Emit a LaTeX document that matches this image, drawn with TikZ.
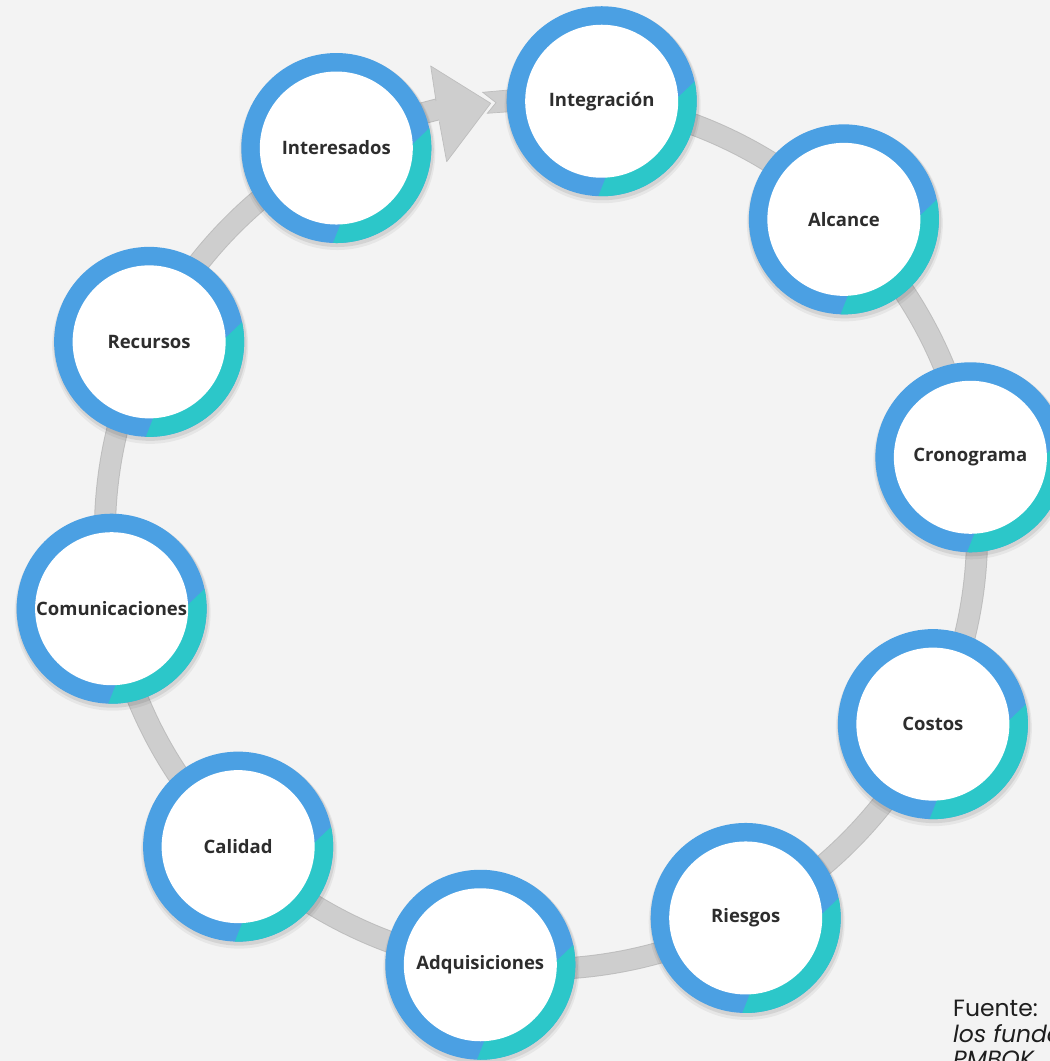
\documentclass[tikz,border=0pt]{standalone}
\usepackage{fontspec}
\setmainfont{Open Sans}
\newfontfamily\srcfont{Poppins}
\usetikzlibrary{calc}
\definecolor{bg}{RGB}{243,243,243}
\definecolor{ringblue}{RGB}{75,160,227}
\definecolor{ringteal}{RGB}{44,199,201}
\definecolor{bandgray}{RGB}{206,206,206}
\definecolor{bandedge}{RGB}{190,190,190}
\definecolor{labeltext}{RGB}{45,45,45}
\definecolor{srctext}{RGB}{30,30,30}
\begin{document}
\begin{tikzpicture}[x=1pt,y=1pt,
  bandouter/.style={draw=bandedge, line width=22pt},
  bandinner/.style={draw=bandgray, line width=20pt},
  topic/.style={circle, fill=white, minimum size=153pt, inner sep=0pt,
    font=\fontsize{18.5}{21}\selectfont\bfseries, text=labeltext},
  srcline/.style={anchor=base west, text=srctext, inner sep=0pt}]
\useasboundingbox (0,0) rectangle (1050,1061);
\fill[bg] (0,0) rectangle (1050,1061);
\clip (0,0) rectangle (1050,1061);
\coordinate (C) at (541,528);
% gray cycle band
\draw[bandouter] ($(C)+(103:436)$) arc[start angle=103, end angle=442, radius=436pt];
\draw[bandinner] ($(C)+(103:436)$) arc[start angle=103, end angle=442, radius=436pt];
% arrow head
\fill[bandgray] (436,960) -- (430.7,995) -- (490.7,957.7) -- (446.7,899.3) -- (439.3,939.3) -- cycle;
\draw[bandedge, line width=0.7pt, line join=round] (436,960) -- (430.7,995) -- (490.7,957.7) -- (446.7,899.3) -- (439.3,939.3);
\fill[bandgray] (482.7,968.7) -- (520,972) -- (520,950) -- (487.3,947.7) -- (496,958.3) -- cycle;
\draw[bandedge, line width=0.7pt] (520,972) -- (482.7,968.7) -- (496,958.3) -- (487.3,947.7) -- (520,950);
% topic circles
\foreach \a/\nm/\lbl in {82/integ/Integración, 46/alc/Alcance, 10/crono/Cronograma,
    -26/cost/Costos, -62/ries/Riesgos, -98/adq/Adquisiciones, -134/cal/Calidad,
    -170/com/Comunicaciones, 154/rec/Recursos, 118/inter/Interesados}{
  \coordinate (P) at ($(C)+(\a:436)$);
  \fill[black, opacity=0.05] ($(P)+(1,-4)$) circle[radius=98pt];
  \fill[black, opacity=0.08] ($(P)+(1,-2.5)$) circle[radius=96.5pt];
  \fill[ringblue] (P) circle[radius=95pt];
  \fill[ringteal] ($(P)+(12:95)$) arc[start angle=12, end angle=-92, radius=95pt]
     -- ($(P)+(-87:76.5)$) -- ($(P)+(3:76.5)$) -- cycle;
  \node[topic] (\nm) at (P) {\raisebox{-1.5pt}{\lbl}};
}
% source note
\node[srcline, font=\srcfont\fontsize{23.5}{26}\selectfont] (src1) at (953,44) {Fuente:};
\node[srcline, font=\srcfont\itshape\fontsize{23.5}{26}\selectfont] (src2) at (953,19) {los funda};
\node[srcline, font=\srcfont\itshape\fontsize{23.5}{26}\selectfont] (src3) at (953,-6) {PMBOK};
\end{tikzpicture}
\end{document}
